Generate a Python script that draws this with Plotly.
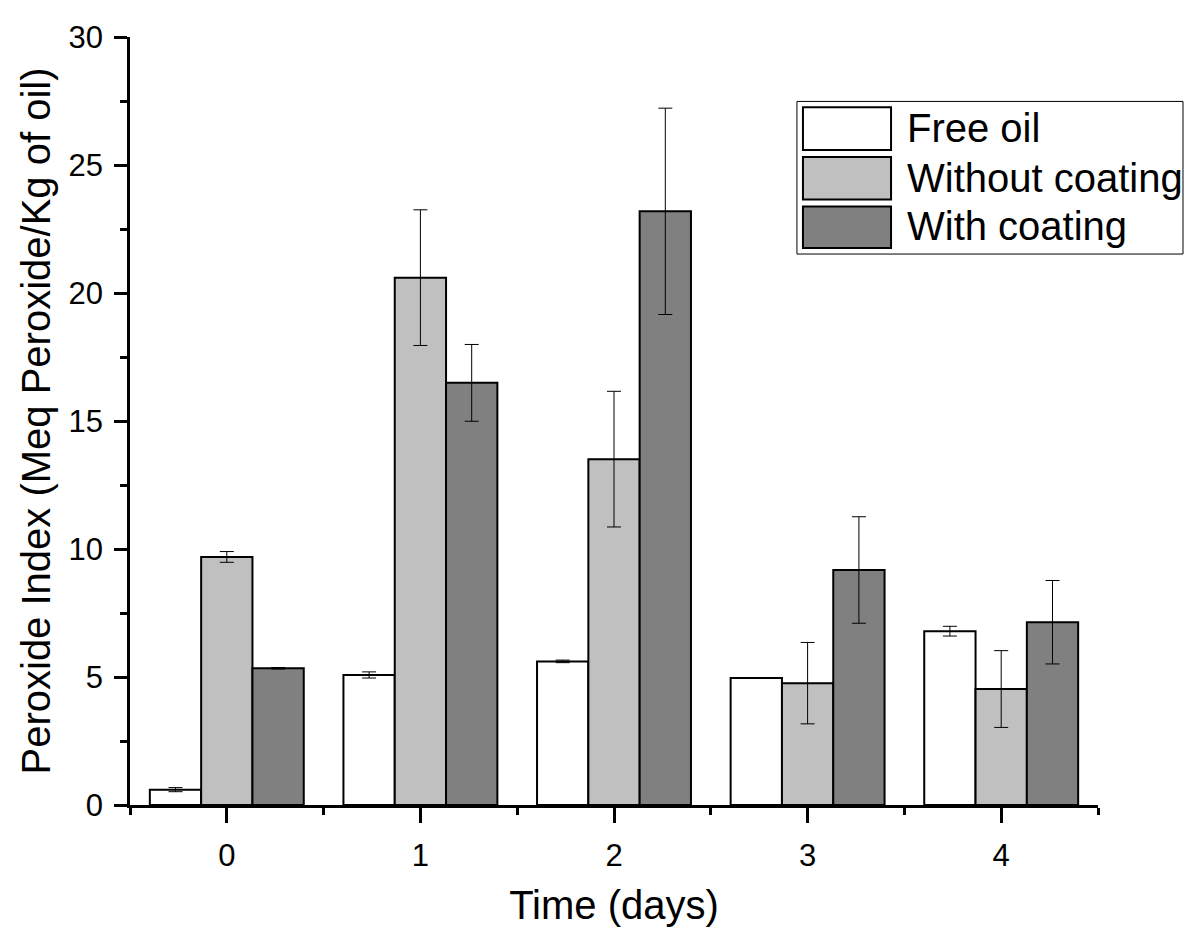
import plotly.graph_objects as go

days = [0, 1, 2, 3, 4]
series_names = ["Free oil", "Without coating", "With coating"]
free_oil = [0.6, 5.08, 5.61, 4.96, 6.79]
free_oil_err = [0.08, 0.12, 0.05, 0.0, 0.19]
without_coating = [9.69, 20.6, 13.51, 4.76, 4.53]
without_coating_err = [0.21, 2.65, 2.65, 1.59, 1.5]
with_coating = [5.34, 16.49, 23.19, 9.18, 7.14]
with_coating_err = [0.03, 1.5, 4.03, 2.08, 1.63]

colors = ["#FFFFFF", "#C0C0C0", "#808080"]
FONT = "Liberation Sans, Arial, sans-serif"

fig = go.Figure()
for name, vals, errs, col in zip(series_names,
                                 [free_oil, without_coating, with_coating],
                                 [free_oil_err, without_coating_err, with_coating_err],
                                 colors):
    fig.add_trace(go.Bar(
        x=days, y=vals, name=name,
        marker=dict(color=col, line=dict(color="black", width=2)),
        error_y=dict(type="data", array=errs, visible=True,
                     color="black", thickness=1, width=7),
        showlegend=False,
    ))

# hand-drawn legend with big swatches (paper coords)
shapes = [dict(type="rect", xref="paper", yref="paper",
               x0=0.689, x1=1.0878, y0=0.7174, y1=0.9161,
               line=dict(color="black", width=1), fillcolor="white", layer="above")]
annotations = []
rows = [(0.8529, 0.9084, 0.8813), (0.7884, 0.8439, 0.8168), (0.7252, 0.7794, 0.7535)]
for (y0, y1, yc), name, col in zip(rows, series_names, colors):
    shapes.append(dict(type="rect", xref="paper", yref="paper",
                       x0=0.6952, x1=0.7862, y0=y0, y1=y1,
                       line=dict(color="black", width=2), fillcolor=col, layer="above"))
    annotations.append(dict(xref="paper", yref="paper", x=0.8006, y=yc,
                            xanchor="left", yanchor="middle", showarrow=False,
                            text=name, font=dict(family=FONT, size=40, color="black")))

# page body has an 8px margin, so the figure is shrunk by that much
fig.update_layout(
    width=1195, height=925,
    margin=dict(l=122, r=105, t=24, b=126),
    paper_bgcolor="white", plot_bgcolor="white",
    barmode="group", bargap=0.205, bargroupgap=0,
    font=dict(family=FONT, color="black"),
    shapes=shapes, annotations=annotations,
)
fig.update_xaxes(
    range=[-0.5, 4.5], tickvals=days, ticktext=[str(d) for d in days],
    showline=True, linecolor="black", linewidth=2.5, showgrid=False, zeroline=False,
    ticks="outside", ticklen=15, tickwidth=2.5, tickcolor="black",
    tickfont=dict(size=31, family=FONT), ticklabelstandoff=6,
    minor=dict(tick0=0.5, dtick=1, ticks="outside", ticklen=7, tickwidth=2.5, tickcolor="black"),
    title=dict(text="Time (days)", font=dict(size=40, family=FONT), standoff=20),
)
fig.update_yaxes(
    range=[0, 30], tickvals=[0, 5, 10, 15, 20, 25, 30],
    showline=True, linecolor="black", linewidth=2.5, showgrid=False, zeroline=False,
    ticks="outside", ticklen=13, tickwidth=2.5, tickcolor="black",
    tickfont=dict(size=31, family=FONT), ticklabelstandoff=5,
    minor=dict(dtick=2.5, ticks="outside", ticklen=7, tickwidth=2.5, tickcolor="black"),
    title=dict(text="Peroxide Index (Meq Peroxide/Kg of oil)", font=dict(size=40, family=FONT), standoff=6),
)

fig.write_html("out.html")
